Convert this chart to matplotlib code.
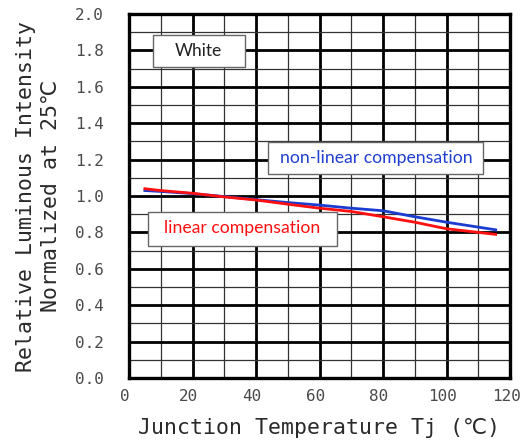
import matplotlib
matplotlib.use("Agg")
import matplotlib.pyplot as plt
import matplotlib.transforms as mtransforms
from matplotlib.patches import Rectangle
from matplotlib.ticker import MultipleLocator

# junction temperature (C) and relative intensity for both compensation modes
tj = [5, 10, 20, 30, 40, 50, 60, 70, 80, 90, 100, 110, 115.5]
linear = [1.040, 1.030, 1.015, 0.995, 0.978, 0.955, 0.933, 0.915, 0.886, 0.856, 0.820, 0.800, 0.789]
nonlinear = [1.030, 1.025, 1.013, 0.997, 0.980, 0.964, 0.950, 0.933, 0.919, 0.886, 0.856, 0.829, 0.814]

x_ticks = [0, 20, 40, 60, 80, 100, 120]
y_ticks = [0.0, 0.2, 0.4, 0.6, 0.8, 1.0, 1.2, 1.4, 1.6, 1.8, 2.0]

label_font = ["DejaVu Sans Mono", "DejaVu Sans", "Noto Sans CJK KR"]
box_font = ["Lato", "DejaVu Sans"]

fig = plt.figure(figsize=(5.21, 4.45), dpi=100)
ax = fig.add_axes([0.2476, 0.1506, 0.9789 - 0.2476, 0.9685 - 0.1506])

ax.set_xlim(0, 120)
ax.set_ylim(0, 2.0)
ax.xaxis.set_minor_locator(MultipleLocator(10))
ax.yaxis.set_minor_locator(MultipleLocator(0.1))
ax.set_xticks(x_ticks)
ax.set_yticks(y_ticks)
ax.set_xticklabels([str(v) for v in x_ticks])
ax.set_yticklabels([f"{v:.1f}" for v in y_ticks])

ax.grid(which="major", color="black", linewidth=2.0)
ax.grid(which="minor", color="#333333", linewidth=0.9)
ax.set_axisbelow(True)
for s in ax.spines.values():
    s.set_linewidth(2.4)
    s.set_color("black")

ax.tick_params(which="both", length=0)
ax.tick_params(axis="y", pad=18)
ax.tick_params(axis="x", pad=8)
for lbl in ax.get_xticklabels() + ax.get_yticklabels():
    lbl.set_family(label_font)
    lbl.set_fontsize(11.5)
    lbl.set_color("#4a4a4a")
# x labels sit slightly left of their grid lines
shift = mtransforms.ScaledTranslation(-4 / 100, 0, fig.dpi_scale_trans)
for lbl in ax.get_xticklabels():
    lbl.set_transform(lbl.get_transform() + shift)

ax.plot(tj, nonlinear, color="#1a3cd0", linewidth=2.0, zorder=3)
ax.plot(tj, linear, color="#ff1010", linewidth=2.0, zorder=3)

ax.set_xlabel("Junction Temperature Tj (℃)", family=label_font, fontsize=15.5,
              color="#2a2a2a", labelpad=10)
ax.set_ylabel("Relative Luminous Intensity\nNormalized at 25℃", family=label_font,
              fontsize=15.5, color="#2a2a2a", labelpad=10, linespacing=1.35)

# label boxes: (x0, y0, x1, y1) in data units
def label_box(x0, y0, x1, y1):
    ax.add_patch(Rectangle((x0, y0), x1 - x0, y1 - y0, facecolor="white",
                           edgecolor="#666666", linewidth=1.0, zorder=4))

label_box(7.6, 1.709, 36.5, 1.885)
ax.text(21.9, 1.797, "White", family=box_font, fontsize=12.5, color="#222222",
        ha="center", va="center", zorder=5)

label_box(43.9, 1.119, 111.4, 1.298)
ax.text(77.8, 1.209, "non-linear compensation", family=box_font, fontsize=12.7,
        color="#1f3fd0", ha="center", va="center", zorder=5)

label_box(6.1, 0.725, 65.6, 0.914)
ax.text(35.7, 0.826, "linear compensation", family=box_font, fontsize=12.7,
        color="#ff1010", ha="center", va="center", zorder=5)

fig.savefig("out.png", dpi=100)
